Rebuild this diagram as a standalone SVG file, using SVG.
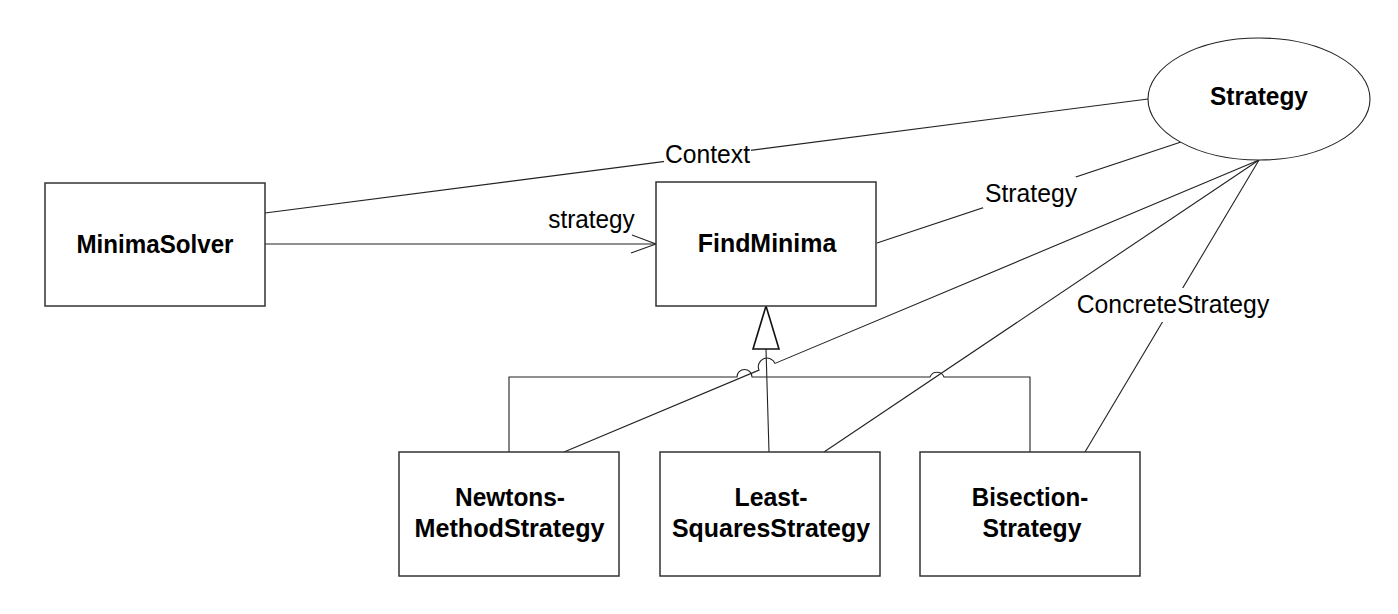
<svg xmlns="http://www.w3.org/2000/svg" width="1398" height="614" viewBox="0 0 1398 614">
<style>
.box{fill:#fff;stroke:#333;stroke-width:1.5}
.ln{fill:none;stroke:#222;stroke-width:1.1}
.nl{font-family:"Liberation Sans",Arial,sans-serif;font-weight:bold;font-size:26.5px;fill:#000;text-anchor:middle}
.lb{font-family:"Liberation Sans",Arial,sans-serif;font-size:26.5px;fill:#000;text-anchor:middle}
.bg{fill:#fff;stroke:none}
</style>
<rect width="1398" height="614" fill="#fff"/>
<g id="connectors">
  <!-- Context association -->
  <line class="ln" x1="265" y1="213" x2="1148" y2="99"/>
  <!-- strategy navigable association -->
  <line class="ln" x1="265" y1="244" x2="656" y2="244"/>
  <polyline class="ln" points="632,235 656,244 631,253"/>
  <!-- Strategy role line -->
  <line class="ln" x1="877" y1="243" x2="1181" y2="142"/>
  <!-- inheritance tree -->
  <path class="ln" d="M509,452 V377 H737 A7.5,7.5 0 0 1 752,377 H930 A7.5,7.5 0 0 1 944,377 H1030 V452"/>
  <line class="ln" x1="766" y1="349" x2="769" y2="452"/>
  <polygon points="766,306 753,349 779,349" fill="#fff" stroke="#111" stroke-width="1.6"/>
  <!-- ConcreteStrategy role lines -->
  <path class="ln" d="M564,452 L759,370.1 A8.65,8.65 0 0 1 775,363.4 L1259,160"/>
  <line class="ln" x1="824" y1="452" x2="1259" y2="160"/>
  <line class="ln" x1="1085" y1="452" x2="1259" y2="160"/>
</g>
<g id="labels">
  <rect class="bg" x="664" y="139" width="87" height="31"/>
  <text class="lb" x="707.5" y="163" textLength="85" lengthAdjust="spacingAndGlyphs">Context</text>
  <text class="lb" x="591.5" y="228" textLength="86.5" lengthAdjust="spacingAndGlyphs">strategy</text>
  <rect class="bg" x="983" y="176.5" width="93" height="31.5"/>
  <text class="lb" x="1031" y="201.5" textLength="92" lengthAdjust="spacingAndGlyphs">Strategy</text>
  <rect class="bg" x="1074" y="288" width="198" height="34"/>
  <text class="lb" x="1173" y="312.5" textLength="192.5" lengthAdjust="spacingAndGlyphs">ConcreteStrategy</text>
</g>
<g id="MinimaSolver">
  <rect class="box" x="45" y="183" width="220" height="123"/>
  <text class="nl" x="155" y="253" textLength="157" lengthAdjust="spacingAndGlyphs">MinimaSolver</text>
</g>
<g id="FindMinima">
  <rect class="box" x="656" y="182" width="220" height="124"/>
  <text class="nl" x="767" y="252" textLength="138.5" lengthAdjust="spacingAndGlyphs">FindMinima</text>
</g>
<g id="Strategy">
  <ellipse cx="1259" cy="99" rx="111" ry="61" fill="#fff" stroke="#222" stroke-width="1.1"/>
  <text class="nl" x="1259" y="105" textLength="98" lengthAdjust="spacingAndGlyphs">Strategy</text>
</g>
<g id="NewtonsMethodStrategy">
  <rect class="box" x="399" y="452" width="220" height="124"/>
  <text class="nl" x="510" y="506" textLength="110" lengthAdjust="spacingAndGlyphs">Newtons-</text>
  <text class="nl" x="509.5" y="537" textLength="190" lengthAdjust="spacingAndGlyphs">MethodStrategy</text>
</g>
<g id="LeastSquaresStrategy">
  <rect class="box" x="660" y="452" width="220" height="124"/>
  <text class="nl" x="771" y="506" textLength="73" lengthAdjust="spacingAndGlyphs">Least-</text>
  <text class="nl" x="771" y="537" textLength="198" lengthAdjust="spacingAndGlyphs">SquaresStrategy</text>
</g>
<g id="BisectionStrategy">
  <rect class="box" x="920" y="452" width="220" height="124"/>
  <text class="nl" x="1030" y="506" textLength="116.5" lengthAdjust="spacingAndGlyphs">Bisection-</text>
  <text class="nl" x="1032" y="537" textLength="99" lengthAdjust="spacingAndGlyphs">Strategy</text>
</g>
</svg>
